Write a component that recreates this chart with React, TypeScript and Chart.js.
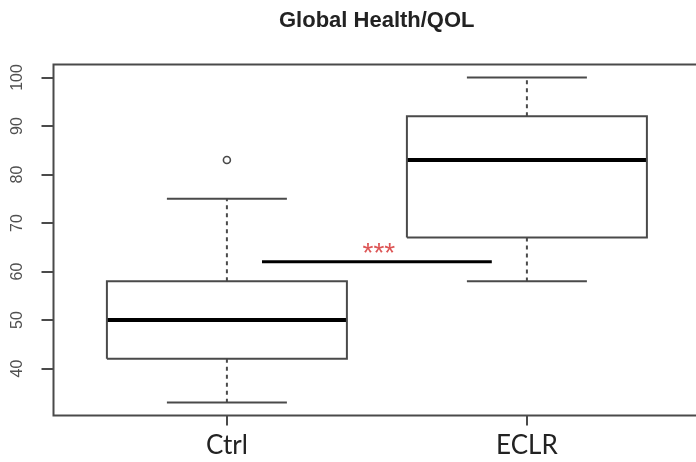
import React, { useEffect, useRef } from 'react';
import { Chart, registerables } from 'chart.js';

Chart.register(...registerables);

// ---- data ----
const chartTitle = 'Global Health/QOL';
const categories = ['Ctrl', 'ECLR'];
const whiskerLow = [33, 58];
const quartile1 = [42, 67];
const medians = [50, 83];
const quartile3 = [58, 92];
const whiskerHigh = [75, 100];
const outliers: number[][] = [[83], []];
const yTicks = [40, 50, 60, 70, 80, 90, 100];
const yMin = 30.32;
const yMax = 102.68;
const xMin = 0.422;
const xMax = 2.577;
const sigFrom = 1.117;
const sigTo = 1.883;
const sigLevel = 62;
const sigLabel = '***';

// ---- styles ----
const BOX_HALF = 0.4;
const CAP_HALF = 0.2;
const LINE = '#4a4a4a';

function seg(points: { x: number; y: number }[], color: string, width: number, dash: number[] = []) {
  return {
    data: points,
    showLine: true,
    borderColor: color,
    borderWidth: width,
    borderDash: dash,
    borderCapStyle: 'butt',
    borderJoinStyle: 'miter',
    pointRadius: 0,
    pointHoverRadius: 0,
    fill: false,
    tension: 0,
  };
}

function buildDatasets() {
  const ds: any[] = [];
  categories.forEach((_, i) => {
    const x = i + 1;
    ds.push(seg([{ x, y: quartile3[i] }, { x, y: whiskerHigh[i] }], LINE, 2, [4, 4]));
    ds.push(seg([{ x, y: quartile1[i] }, { x, y: whiskerLow[i] }], LINE, 2, [4, 4]));
    ds.push(seg([{ x: x - CAP_HALF, y: whiskerHigh[i] }, { x: x + CAP_HALF, y: whiskerHigh[i] }], LINE, 2));
    ds.push(seg([{ x: x - CAP_HALF, y: whiskerLow[i] }, { x: x + CAP_HALF, y: whiskerLow[i] }], LINE, 2));
    ds.push(
      seg(
        [
          { x: x - BOX_HALF, y: quartile1[i] },
          { x: x + BOX_HALF, y: quartile1[i] },
          { x: x + BOX_HALF, y: quartile3[i] },
          { x: x - BOX_HALF, y: quartile3[i] },
          { x: x - BOX_HALF, y: quartile1[i] },
        ],
        LINE,
        2
      )
    );
    ds.push(seg([{ x: x - BOX_HALF, y: medians[i] }, { x: x + BOX_HALF, y: medians[i] }], '#000', 4));
    if (outliers[i].length) {
      ds.push({
        data: outliers[i].map((v) => ({ x, y: v })),
        showLine: false,
        pointRadius: 3.5,
        pointBorderWidth: 1.6,
        pointBorderColor: LINE,
        pointBackgroundColor: '#fff',
        pointHoverRadius: 3.5,
      });
    }
  });
  ds.push(seg([{ x: sigFrom, y: sigLevel }, { x: sigTo, y: sigLevel }], '#000', 3));
  return ds;
}

const decorPlugin = {
  id: 'decor',
  afterDraw(chart: any) {
    const { ctx, chartArea, scales } = chart;
    const ys = scales.y;
    const xs = scales.x;
    ctx.save();
    ctx.strokeStyle = LINE;
    ctx.lineWidth = 2;
    ctx.strokeRect(chartArea.left, chartArea.top, chartArea.right - chartArea.left, chartArea.bottom - chartArea.top);
    // y tick labels (rotated, R style)
    ctx.fillStyle = '#505050';
    ctx.font = '16px "Liberation Sans", Arial, sans-serif';
    ctx.textAlign = 'center';
    ctx.textBaseline = 'middle';
    yTicks.forEach((t) => {
      const py = ys.getPixelForValue(t);
      ctx.save();
      ctx.translate(18, py);
      ctx.rotate(-Math.PI / 2);
      ctx.fillText(String(t), 0, 0);
      ctx.restore();
    });
    // title
    ctx.fillStyle = '#222';
    ctx.font = 'bold 22px "Liberation Sans", Arial, sans-serif';
    ctx.fillText(chartTitle, (chartArea.left + chartArea.right) / 2, 21);
    // significance stars
    ctx.fillStyle = '#dd5555';
    ctx.font = '28px "Liberation Sans", Arial, sans-serif';
    ctx.textBaseline = 'alphabetic';
    const sx = xs.getPixelForValue((sigFrom + sigTo) / 2);
    const sy = ys.getPixelForValue(sigLevel);
    ctx.fillText(sigLabel, sx + 2, sy);
    ctx.restore();
  },
};

export default function App() {
  const ref = useRef<HTMLCanvasElement | null>(null);
  useEffect(() => {
    if (!ref.current) return;
    const chart = new Chart(ref.current, {
      type: 'scatter',
      data: { datasets: buildDatasets() },
      options: {
        animation: false,
        responsive: false,
        devicePixelRatio: 1,
        layout: { padding: { left: 0, top: 64.5, right: 12, bottom: 0 } },
        plugins: { legend: { display: false }, tooltip: { enabled: false }, title: { display: false } },
        scales: {
          x: {
            type: 'linear',
            min: xMin,
            max: xMax,
            afterBuildTicks: (s: any) => {
              s.ticks = categories.map((_, i) => ({ value: i + 1 }));
            },
            afterFit: (s: any) => {
              s.height = 46.5;
            },
            border: { display: false },
            grid: { drawOnChartArea: false, drawTicks: true, tickLength: 10, color: LINE, lineWidth: 2 },
            ticks: {
              padding: 5,
              color: '#222',
              font: { family: 'Lato, "Open Sans", sans-serif', size: 26 },
              callback: (v: any) => categories[Math.round(Number(v)) - 1] ?? '',
            },
          },
          y: {
            type: 'linear',
            min: yMin,
            max: yMax,
            afterBuildTicks: (s: any) => {
              s.ticks = yTicks.map((v) => ({ value: v }));
            },
            afterFit: (s: any) => {
              s.width = 53.5;
            },
            border: { display: false },
            grid: { drawOnChartArea: false, drawTicks: true, tickLength: 12, color: LINE, lineWidth: 2 },
            ticks: { display: false },
          },
        },
      },
      plugins: [decorPlugin],
    } as any);
    return () => chart.destroy();
  }, []);
  return (
    <div style={{ position: 'fixed', left: 0, top: 0, width: 696, height: 462, overflow: 'hidden', background: '#fff' }}>
      <canvas ref={ref} width={712} height={462} style={{ width: 712, height: 462, display: 'block' }} />
    </div>
  );
}
